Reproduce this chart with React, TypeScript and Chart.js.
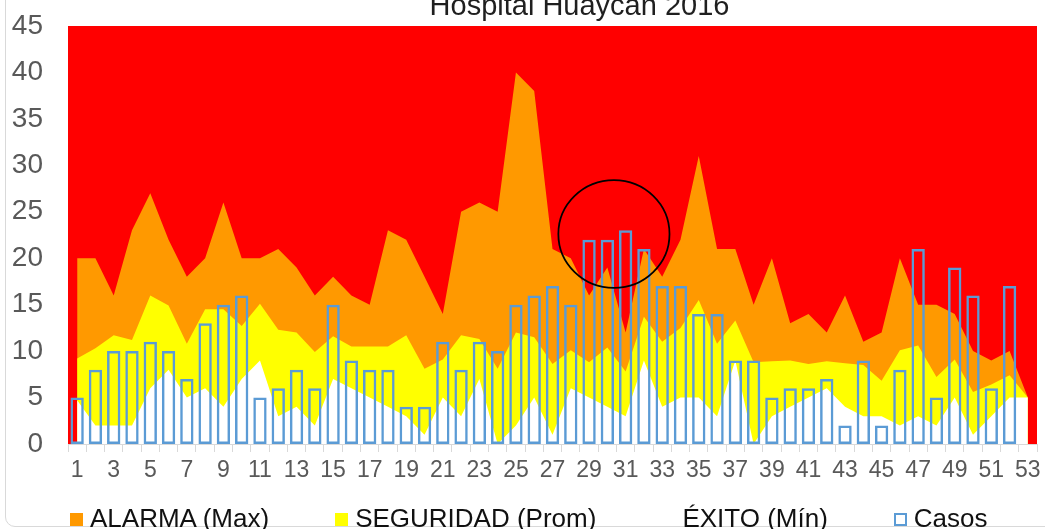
import React, { useEffect, useRef } from 'react';
import { Chart, registerables } from 'chart.js';

Chart.register(...registerables);

const chartTitle = 'Hospital Huaycan 2016';

const weeks = [
  '1', '2', '3', '4', '5', '6', '7', '8', '9', '10',
  '11', '12', '13', '14', '15', '16', '17', '18', '19', '20',
  '21', '22', '23', '24', '25', '26', '27', '28', '29', '30',
  '31', '32', '33', '34', '35', '36', '37', '38', '39', '40',
  '41', '42', '43', '44', '45', '46', '47', '48', '49', '50',
  '51', '52', '53',
];

const alarma = [
  20, 20, 16, 23, 27, 22, 18, 20, 26, 20,
  20, 21, 19, 16, 18, 16, 15, 23, 22, 18,
  14, 25, 26, 25, 40, 38, 21, 20, 16, 19,
  12, 21, 18, 22, 31, 21, 21, 15, 20, 13,
  14, 12, 16, 11, 12, 20, 15, 15, 14, 10,
  9, 10, 5,
];

const seguridad = [
  9.2, 10.3, 11.7, 11.2, 16.0, 14.9, 10.8, 14.5, 14.5, 12.7,
  15.1, 12.3, 12.0, 9.9, 11.6, 10.5, 10.5, 10.5, 11.7, 8.1,
  9.1, 11.7, 11.3, 8.1, 12.0, 11.5, 8.6, 10.1, 8.8, 10.4,
  7.8, 13.7, 11.0, 12.5, 15.5, 10.8, 13.3, 8.8, 8.9, 9.0,
  8.6, 8.9, 8.7, 8.5, 6.8, 10.1, 10.6, 7.2, 9.1, 5.6,
  6.4, 7.4, 5,
];

const exito = [
  4.7, 2, 2, 2, 6, 8, 5, 6, 4, 7,
  9, 3, 4, 2, 7, 6, 5, 4, 3, 1,
  5, 3, 7, 0, 2, 5, 1, 6, 5, 4,
  3, 9, 4, 5, 5, 3, 9, 0, 3, 4,
  5, 6, 4, 3, 3, 2, 3, 2, 5, 1,
  3, 5, 5,
];

const casos = [
  5, 8, 10, 10, 11, 10, 7, 13, 15, 16,
  5, 6, 8, 6, 15, 9, 8, 8, 4, 4,
  11, 8, 11, 10, 15, 16, 17, 15, 22, 22,
  23, 21, 17, 17, 14, 14, 9, 9, 5, 6,
  6, 7, 2, 9, 2, 8, 21, 5, 19, 16,
  6, 17, null,
];

const yTicks = [0, 5, 10, 15, 20, 25, 30, 35, 40, 45];

// Highlight ellipse in data units (category index, value)
const circleCenterIndex = 29.36;
const circleCenterValue = 22.6;
const circleRadiusIndex = 3.04;
const circleRadiusValue = 5.8;

const seriesLabels = ['ALARMA (Max)', 'SEGURIDAD (Prom)', 'ÉXITO (Mín)', 'Casos'];
const COLOR_RED = '#FF0000';
const COLOR_ORANGE = '#FF9900';
const COLOR_YELLOW = '#FFFF00';
const COLOR_WHITE = '#FFFFFF';
const COLOR_BLUE = '#5B9BD5';
const FONT = '"Liberation Sans", Arial, sans-serif';

const backgroundPlugin = {
  id: 'redBackground',
  beforeDatasetsDraw(chart: any) {
    const { ctx, chartArea } = chart;
    ctx.save();
    ctx.fillStyle = COLOR_RED;
    ctx.fillRect(chartArea.left, chartArea.top, chartArea.right - chartArea.left, chartArea.bottom - chartArea.top);
    ctx.restore();
  },
};

const titlePlugin = {
  id: 'customTitle',
  afterDraw(chart: any) {
    const { ctx, chartArea } = chart;
    ctx.save();
    ctx.font = `29px ${FONT}`;
    ctx.fillStyle = '#1f1f1f';
    ctx.textAlign = 'center';
    ctx.textBaseline = 'alphabetic';
    ctx.fillText(chartTitle, chart.width / 2, chartArea.top - 11);
    ctx.restore();
  },
};

const circlePlugin = {
  id: 'highlightCircle',
  afterDatasetsDraw(chart: any) {
    const { ctx } = chart;
    const xs = chart.scales.x;
    const ys = chart.scales.y;
    const cx = xs.getPixelForValue(circleCenterIndex);
    const cy = ys.getPixelForValue(circleCenterValue);
    const rx = Math.abs(xs.getPixelForValue(circleCenterIndex + circleRadiusIndex) - cx);
    const ry = Math.abs(ys.getPixelForValue(circleCenterValue + circleRadiusValue) - cy);
    ctx.save();
    ctx.beginPath();
    ctx.ellipse(cx, cy, rx, ry, 0, 0, Math.PI * 2);
    ctx.strokeStyle = '#000000';
    ctx.lineWidth = 1.75;
    ctx.stroke();
    ctx.restore();
  },
};

const legendItems = [
  { label: seriesLabels[0], fill: COLOR_ORANGE, border: 'none' },
  { label: seriesLabels[1], fill: COLOR_YELLOW, border: 'none' },
  { label: seriesLabels[2], fill: COLOR_WHITE, border: 'none' },
  { label: seriesLabels[3], fill: 'transparent', border: `2px solid ${COLOR_BLUE}` },
];

export default function App() {
  const canvasRef = useRef<HTMLCanvasElement | null>(null);

  useEffect(() => {
    const canvas = canvasRef.current;
    if (!canvas) return;
    const areaBase = {
      type: 'line' as const,
      fill: 'origin',
      pointRadius: 0,
      pointHoverRadius: 0,
      borderWidth: 0,
      borderColor: 'rgba(0,0,0,0)',
      tension: 0,
    };
    const chart = new Chart(canvas, {
      type: 'bar',
      data: {
        labels: weeks,
        datasets: [
          {
            type: 'bar',
            label: seriesLabels[3],
            data: casos as any,
            backgroundColor: 'rgba(0,0,0,0)',
            borderColor: COLOR_BLUE,
            borderWidth: 2.5,
            borderSkipped: false,
            barPercentage: 0.73,
            categoryPercentage: 1.0,
            order: 0,
          } as any,
          { ...areaBase, label: seriesLabels[2], data: exito, backgroundColor: COLOR_WHITE, order: 1 } as any,
          { ...areaBase, label: seriesLabels[1], data: seguridad, backgroundColor: COLOR_YELLOW, order: 2 } as any,
          { ...areaBase, label: seriesLabels[0], data: alarma, backgroundColor: COLOR_ORANGE, order: 3 } as any,
        ],
      },
      options: {
        responsive: false,
        animation: false,
        devicePixelRatio: 1,
        layout: { padding: { left: 0, right: 122, top: 26, bottom: 0 } },
        plugins: {
          legend: { display: false },
          tooltip: { enabled: false },
          title: { display: false },
        },
        scales: {
          x: {
            type: 'category',
            offset: true,
            grid: {
              display: true,
              drawOnChartArea: false,
              drawTicks: true,
              tickLength: 8,
              color: '#d9d9d9',
              offset: true,
            },
            border: { display: true, color: '#d9d9d9', width: 1 },
            ticks: {
              autoSkip: false,
              maxRotation: 0,
              minRotation: 0,
              padding: 5,
              color: '#595959',
              font: { family: FONT, size: 23 },
              callback: (_v: any, i: number) => (i % 2 === 0 ? weeks[i] : ''),
            },
            afterFit: (scale: any) => {
              scale.height = 85;
            },
          },
          y: {
            min: 0,
            max: 45,
            grid: { display: false, drawTicks: false },
            border: { display: false },
            afterBuildTicks: (scale: any) => {
              scale.ticks = yTicks.map((v) => ({ value: v }));
            },
            ticks: {
              padding: 25,
              color: '#595959',
              font: { family: FONT, size: 28 },
            },
            afterFit: (scale: any) => {
              scale.width = 68;
              scale.paddingTop = 0;
              scale.paddingBottom = 0;
            },
          },
        },
      },
      plugins: [backgroundPlugin, circlePlugin, titlePlugin],
    });
    return () => chart.destroy();
  }, []);

  return (
    <div
      style={{
        position: 'fixed',
        left: 0,
        top: 0,
        width: 1045,
        height: 529,
        overflow: 'hidden',
        background: '#ffffff',
        fontFamily: FONT,
      }}
    >
      <div
        style={{
          position: 'absolute',
          left: 5,
          top: -20,
          width: 1200,
          height: 547,
          boxSizing: 'border-box',
          border: '1.5px solid #d9d9d9',
          borderRadius: 10,
        }}
      />
      <canvas
        ref={canvasRef}
        width={1159}
        height={529}
        style={{ position: 'absolute', left: 0, top: 0, width: 1159, height: 529, display: 'block' }}
      />
      <div
        style={{
          position: 'absolute',
          left: 70,
          top: 505,
          height: 26,
          display: 'flex',
          flexDirection: 'row',
          alignItems: 'flex-start',
          gap: 66,
          whiteSpace: 'nowrap',
        }}
      >
        {legendItems.map((it) => (
          <div key={it.label} style={{ display: 'flex', alignItems: 'flex-start' }}>
            <span
              style={{
                display: 'inline-block',
                width: 13,
                height: 13,
                marginTop: 8,
                marginRight: 7,
                boxSizing: 'border-box',
                background: it.fill,
                border: it.border,
              }}
            />
            <span style={{ fontSize: 26, lineHeight: '26px', color: '#111111' }}>{it.label}</span>
          </div>
        ))}
      </div>
    </div>
  );
}
